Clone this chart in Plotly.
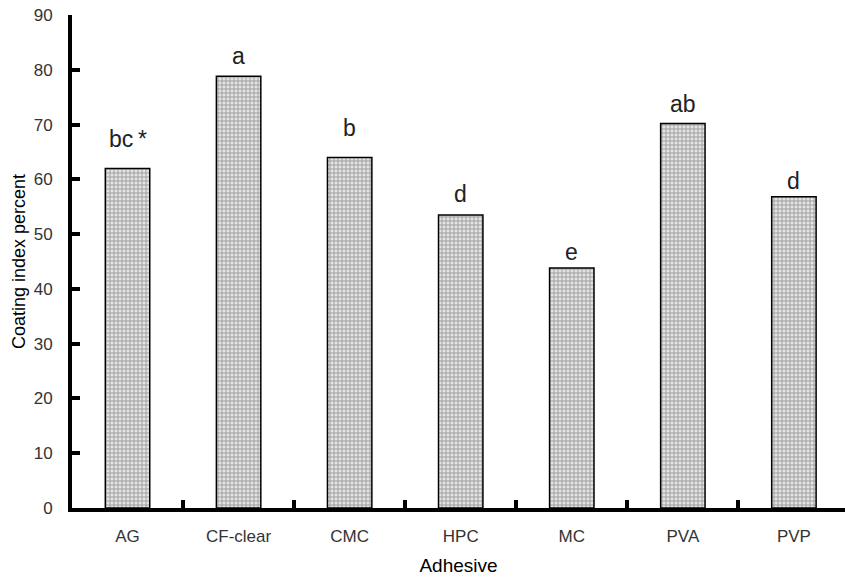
import plotly.graph_objects as go

categories = ["AG", "CF-clear", "CMC", "HPC", "MC", "PVA", "PVP"]
values = [62.0, 78.8, 64.0, 53.5, 43.8, 70.2, 56.8]
letters = ["bc\u2009*", "a", "b", "d", "e", "ab", "d"]
label_y = [65.7, 80.8, 67.7, 55.7, 45.1, 72.2, 58.1]
y_ticks = [0, 10, 20, 30, 40, 50, 60, 70, 80, 90]

xpos = list(range(len(categories)))

fig = go.Figure()
fig.add_trace(go.Bar(
    x=xpos, y=values, width=0.4,
    marker=dict(
        color="#d0d0d0",
        line=dict(color="black", width=1.5),
        pattern=dict(shape="+", fgcolor="#505050", bgcolor="#e4e4e4", size=4, solidity=0.4),
    ),
    showlegend=False,
))

for xi, ly, t in zip(xpos, label_y, letters):
    fig.add_annotation(x=xi, y=ly, text=t, showarrow=False, yanchor="bottom", yshift=-6,
                       font=dict(family="Liberation Sans", size=23, color="#222"))

fig.update_layout(
    width=845, height=580,
    margin=dict(l=72, r=0, t=15, b=72),
    plot_bgcolor="white", paper_bgcolor="white",
)
fig.update_xaxes(
    range=[-0.5, 6.46],
    tickmode="array", tickvals=xpos, ticktext=categories,
    ticks="", showgrid=False, zeroline=False,
    showline=True, linecolor="black", linewidth=4,
    tickfont=dict(family="Liberation Sans", size=17, color="#333"),
    ticklabelstandoff=10,
    minor=dict(tickmode="array", tickvals=[i + 0.5 for i in xpos[:-1]], ticks="inside",
               ticklen=8, tickwidth=4, tickcolor="black", showgrid=False),
    title=dict(text="Adhesive", font=dict(family="Liberation Sans", size=19, color="black"), standoff=14),
)
fig.update_yaxes(
    range=[0, 90],
    tickmode="array", tickvals=y_ticks,
    ticks="inside", ticklen=8, tickwidth=4, tickcolor="black",
    showgrid=False, zeroline=False,
    showline=True, linecolor="black", linewidth=4,
    tickfont=dict(family="Liberation Sans", size=17, color="#333"),
    ticklabelstandoff=12,
    title=dict(text="Coating index percent", font=dict(family="Liberation Sans", size=18, color="black"), standoff=4),
)

fig.write_html("out.html")
